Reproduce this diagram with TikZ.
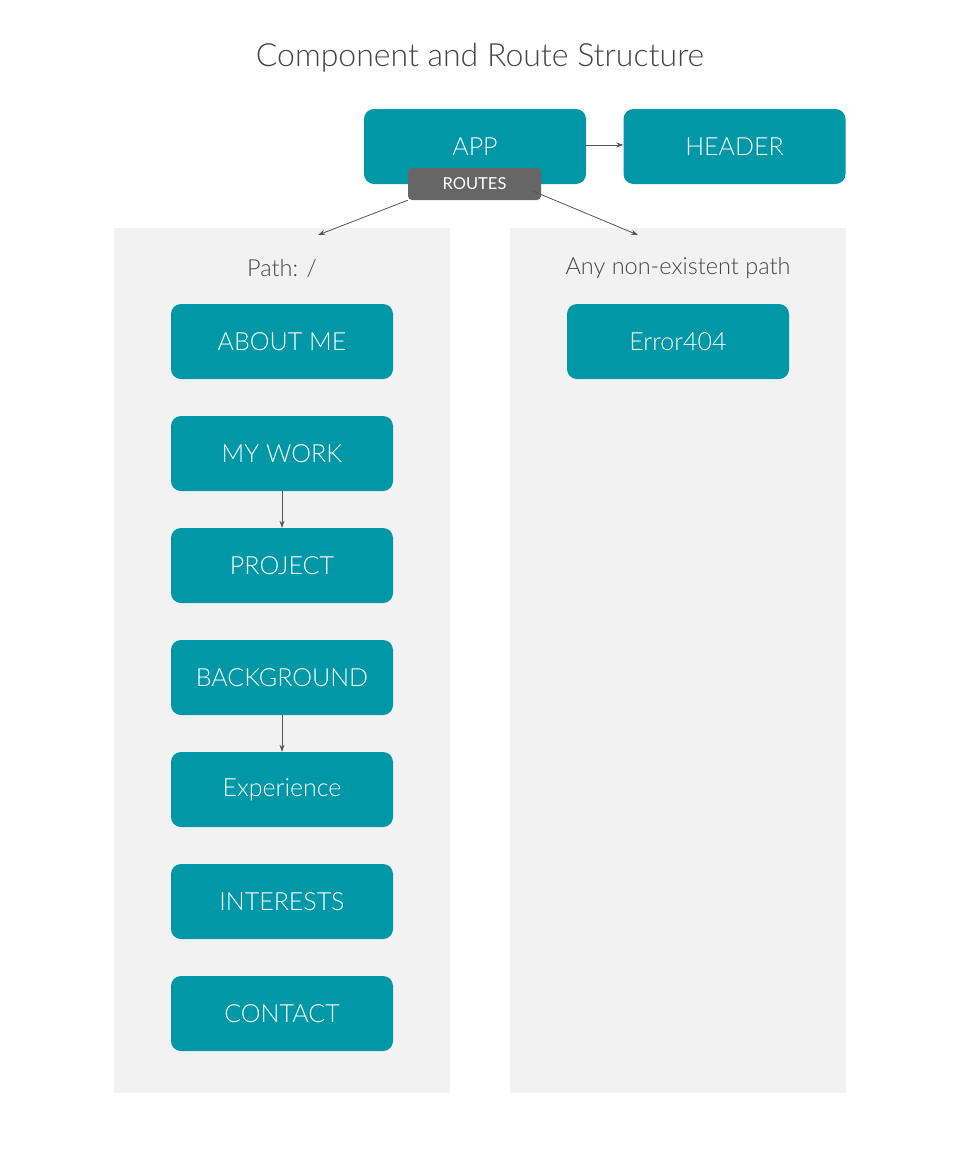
\documentclass[tikz,border=0pt]{standalone}
\usepackage{fontspec}
\setmainfont{Lato}[UprightFont={* Light}]
\newfontfamily\latoreg{Lato}
\usetikzlibrary{arrows.meta}
\definecolor{teal}{HTML}{0097A7}
\definecolor{panel}{HTML}{F2F2F2}
\definecolor{routes}{HTML}{666666}
\definecolor{txt}{HTML}{444444}
\definecolor{arr}{HTML}{555555}
\tikzset{
  comp/.style={fill=teal, rounded corners=10pt, minimum width=222pt, minimum height=75pt, text=white, font=\fontsize{25}{30}\selectfont, inner sep=0pt},
  lbl/.style={text=txt, font=\fontsize{23.5}{28}\selectfont},
  conn/.style={draw=arr, line width=0.8pt, -{Stealth[length=7pt,width=5pt]}},
}
\begin{document}
\begin{tikzpicture}[x=1pt,y=-1pt]
\useasboundingbox (0,0) rectangle (960,1152);
\fill[white] (0,0) rectangle (960,1152);
\node[text=txt, font=\fontsize{32}{38}\selectfont] (title) at (480,58) {Component and Route Structure};
\fill[panel] (114,228) rectangle (450,1093);
\fill[panel] (510,228) rectangle (846,1093);
\coordinate (lp) at (318,235);
\coordinate (rp) at (638,235);
\node[lbl] (pathl) at (282,268) {Path: /};
\node[lbl] (pathr) at (678,268) {Any non-existent path};
\node[comp] (app) at (475,146.5) {APP};
\node[comp] (header) at (734.5,146.5) {HEADER};
\node[fill=routes, rounded corners=4pt, minimum width=133pt, minimum height=32pt, text=white, font=\latoreg\fontsize{16.5}{20}\selectfont, inner sep=0pt] (routes) at (474.5,184) {ROUTES};
\draw[conn] ([yshift=1.5pt]app.east) -- ([yshift=1.5pt]header.west);
\draw[conn] (routes.south west) -- (lp);
\draw[conn] ([xshift=-8pt,yshift=9pt]routes.south east) -- (rp);
\node[comp] (about) at (282,341.5) {ABOUT ME};
\node[comp] (work) at (282,453.5) {MY WORK};
\node[comp] (project) at (282,565.5) {PROJECT};
\node[comp] (bg) at (282,677.5) {BACKGROUND};
\node[comp] (exp) at (282,789.5) {Experience};
\node[comp] (interests) at (282,901.5) {INTERESTS};
\node[comp] (contact) at (282,1013.5) {CONTACT};
\node[comp] (err) at (678,341.5) {Error404};
\draw[conn] (work.south) -- (project.north);
\draw[conn] (bg.south) -- (exp.north);
\end{tikzpicture}
\end{document}
